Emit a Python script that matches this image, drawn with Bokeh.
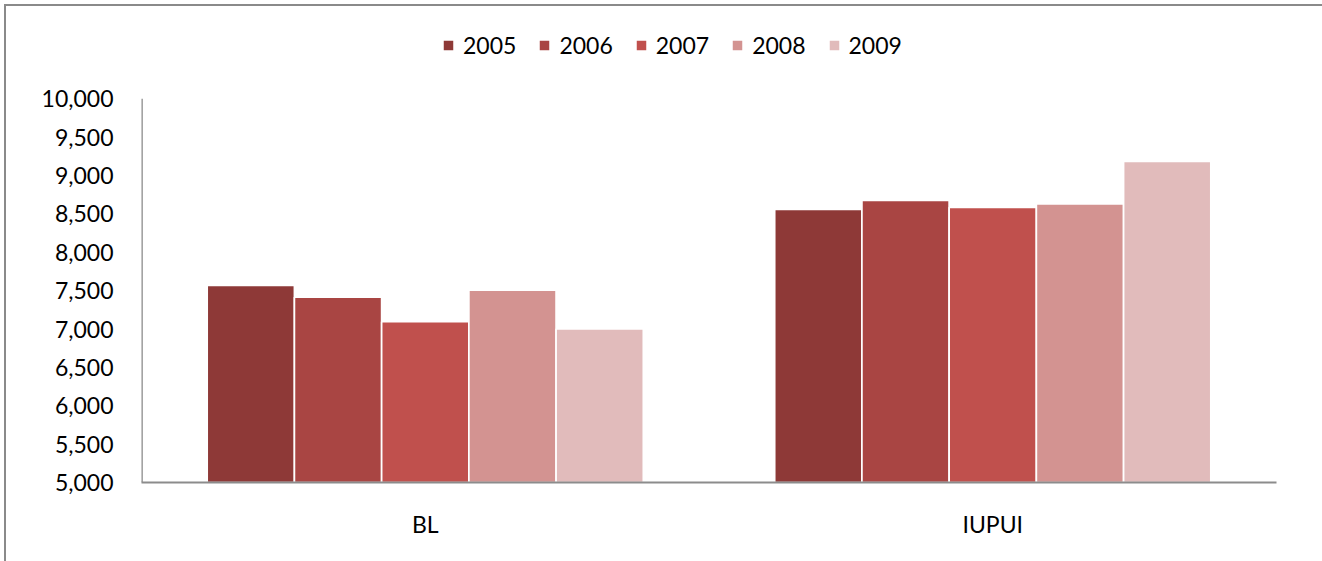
from bokeh.plotting import figure
from bokeh.models import (FactorRange, Range1d, NumeralTickFormatter, FixedTicker,
                          Legend, LegendItem, ColumnDataSource)
from bokeh.transform import dodge
from bokeh.embed import file_html
from bokeh.resources import INLINE

# ---- data ----
campuses = ["BL", "IUPUI"]
years = ["2005", "2006", "2007", "2008", "2009"]
v2005 = [7570, 8560]
v2006 = [7415, 8675]
v2007 = [7095, 8585]
v2008 = [7505, 8630]
v2009 = [7000, 9185]
y_ticks = [5000, 5500, 6000, 6500, 7000, 7500, 8000, 8500, 9000, 9500, 10000]

colors = ["#8E3937", "#A94543", "#C0504D", "#D39391", "#E1BBBB"]
FONT = "Lato"
FRAME_GRAY = "#8a8a8a"
AXIS_GRAY = "#8c8c8c"

series = [v2005, v2006, v2007, v2008, v2009]
data = {"campus": campuses}
for yr, vals in zip(years, series):
    data[yr] = vals
source = ColumnDataSource(data)

# layout (canvas starts at page 6,6 and runs to the window edge)
W, H = 1316, 555
TOP, BOTTOM_BORDER = 4, 79
frame_bottom = H - BOTTOM_BORDER          # 476
axis_top_px = 92.3                         # where the top tick sits
y_lo, y_hi = y_ticks[0], y_ticks[-1]
y_end = y_lo + (frame_bottom - TOP) / (frame_bottom - axis_top_px) * (y_hi - y_lo)

p = figure(x_range=FactorRange(factors=campuses, range_padding=0),
           y_range=Range1d(y_lo, y_end),
           width=W, height=H,
           min_border_left=135, min_border_right=46,
           min_border_top=TOP, min_border_bottom=BOTTOM_BORDER,
           output_backend="svg", toolbar_location=None,
           styles={"outline": f"2px solid {FRAME_GRAY}",
                   "margin-top": "6px", "margin-left": "6px"})

p.xgrid.visible = False
p.ygrid.visible = False
p.outline_line_color = None
p.background_fill_color = "white"
p.border_fill_color = "white"

bar_w = 0.1537
renderers = []
for i, (yr, col) in enumerate(zip(years, colors)):
    r = p.vbar(x=dodge("campus", (i - 2) * bar_w, range=p.x_range), top=yr, bottom=y_lo,
               width=bar_w, source=source, fill_color=col, line_color="white",
               line_width=1.7)
    renderers.append(r)

# y axis line only between first and last tick
p.segment(x0=[0], x1=[0], y0=[y_lo], y1=[y_hi], line_color=AXIS_GRAY, line_width=2.6)

# axes
p.yaxis.ticker = FixedTicker(ticks=y_ticks)
p.yaxis.formatter = NumeralTickFormatter(format="0,0")
for ax in (p.xaxis, p.yaxis):
    ax.major_tick_line_color = None
    ax.minor_tick_line_color = None
    ax.major_tick_out = 0
    ax.major_tick_in = 0
    ax.minor_tick_out = 0
    ax.major_label_text_font = FONT
    ax.major_label_text_font_size = "23px"
    ax.major_label_text_color = "black"
p.yaxis.axis_line_color = None
p.xaxis.axis_line_color = AXIS_GRAY
p.xaxis.axis_line_width = 2
p.yaxis.major_label_standoff = 28
p.xaxis.major_label_standoff = 27

legend = Legend(items=[LegendItem(label=yr, renderers=[r]) for yr, r in zip(years, renderers)],
                orientation="horizontal", location=(300, frame_bottom - 53),
                padding=0, margin=0, spacing=21, label_standoff=8,
                glyph_width=14, glyph_height=14, label_height=28,
                border_line_color=None, background_fill_alpha=0,
                label_text_font=FONT, label_text_font_size="23px",
                label_text_color="black")
p.add_layout(legend, "center")

open("out.html", "w").write(file_html(p, INLINE))
